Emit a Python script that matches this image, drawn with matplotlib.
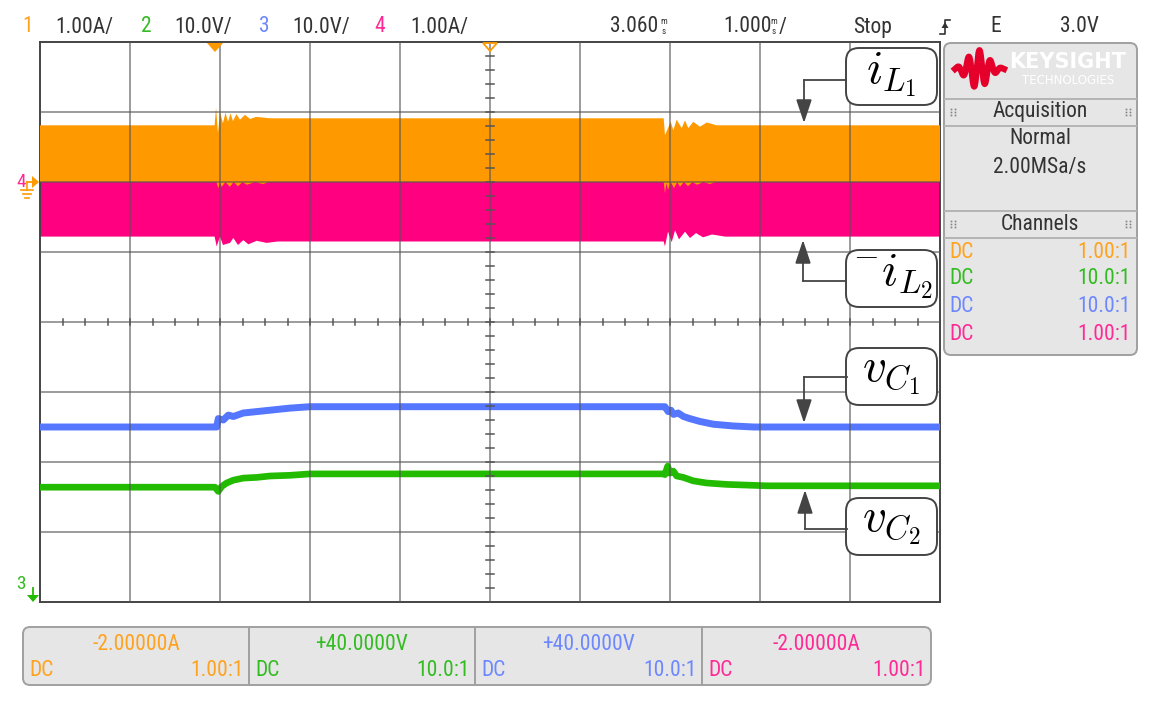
import numpy as np
import matplotlib.pyplot as plt
from matplotlib import font_manager as fm
from matplotlib.patches import FancyBboxPatch, Polygon

# ---------------- screen data (time in ms, current in A, voltage in V) ----------------
# channel 1 (i_L1): upper and lower edge of the switching band
t_iL1_top = [-1.94, 0.0, 0.016, 0.038, 0.06, 0.093, 0.121, 0.149, 0.177, 0.204, 0.243, 0.282, 0.338,
             0.393, 0.46, 0.538, 0.616, 4.99, 5.004, 5.068, 5.097, 5.134, 5.19, 5.227, 5.263, 5.319,
             5.393, 5.468, 5.579, 8.06]
iL1_top = [0.81, 0.81, 1.06, 0.70, 1.00, 0.84, 0.99, 0.86, 0.98, 0.87, 0.97, 0.89, 0.96,
           0.90, 0.93, 0.92, 0.91, 0.91, 0.67, 0.86, 0.74, 0.89, 0.77, 0.88, 0.77, 0.86,
           0.79, 0.85, 0.81, 0.81]
t_iL1_bot = [-1.94, 0.02, 0.041, 0.06, 0.079, 0.12, 0.171, 0.21, 0.26, 0.31, 0.357, 0.45, 0.538, 0.6,
             4.99, 5.004, 5.02, 5.038, 5.07, 5.104, 5.14, 5.171, 5.215, 5.26, 5.31, 5.36, 5.43, 5.504,
             5.56, 8.06]
iL1_bot = [0, 0, -0.09, 0, -0.07, 0, -0.07, 0, -0.06, 0, -0.04, 0, -0.03, 0,
           0, -0.16, -0.02, -0.11, 0, -0.09, 0, -0.07, 0, -0.06, 0, -0.04, 0, -0.03, 0, 0]

# channel 4 (-i_L2): lower edge of the band (upper edge sits at 0 A)
t_iL2 = [-1.94, 0.0, 0.023, 0.06, 0.093, 0.171, 0.208, 0.26, 0.319, 0.375, 0.467, 0.578, 0.7,
         4.99, 5.004, 5.038, 5.079, 5.116, 5.16, 5.227, 5.282, 5.349, 5.427, 5.527, 5.671, 8.06]
neg_iL2 = [-0.78, -0.78, -0.92, -0.78, -0.90, -0.87, -0.80, -0.90, -0.83, -0.89, -0.84, -0.87, -0.85,
           -0.85, -0.92, -0.71, -0.86, -0.69, -0.82, -0.71, -0.80, -0.73, -0.79, -0.75, -0.78, -0.78]

# channel 3 (v_C1)
t_vC1 = [-1.94, 0.0, 0.023, 0.041, 0.097, 0.152, 0.208, 0.319, 0.467, 0.616, 0.838, 1.06,
         4.99, 5.004, 5.04, 5.07, 5.10, 5.15, 5.21, 5.28, 5.39, 5.54, 5.76, 5.99, 8.06]
vC1 = [25.0, 25.0, 25.0, 26.2, 26.0, 26.7, 26.5, 27.0, 27.2, 27.4, 27.7, 27.9,
       27.9, 27.9, 27.2, 27.4, 26.8, 27.0, 26.5, 26.2, 25.8, 25.4, 25.15, 25.0, 25.0]

# channel 2 (v_C2)
t_vC2 = [-1.94, 0.004, 0.041, 0.079, 0.134, 0.208, 0.319, 0.467, 0.616, 0.838, 1.06,
         4.99, 5.004, 5.034, 5.06, 5.097, 5.134, 5.208, 5.319, 5.468, 5.69, 5.912, 6.134, 8.06]
vC2 = [16.4, 16.4, 15.8, 16.5, 17.0, 17.4, 17.7, 17.8, 18.0, 18.1, 18.3,
       18.3, 18.2, 19.4, 18.4, 18.7, 18.0, 17.8, 17.3, 17.0, 16.8, 16.7, 16.6, 16.6]

# scope settings
ch_names = ['1', '2', '3', '4']
ch_scale_txt = ['1.00A/', '10.0V/', '10.0V/', '1.00A/']
ch_offset_txt = ['-2.00000A', '+40.0000V', '+40.0000V', '-2.00000A']
ch_probe = ['1.00:1', '10.0:1', '10.0:1', '1.00:1']
ch_coupling = ['DC', 'DC', 'DC', 'DC']
ch_scale = [1.0, 10.0, 10.0, 1.0]      # units per division
ch_offset = [-2.0, 40.0, 40.0, -2.0]   # value at screen centre
delay_ms = 3.060
tdiv_ms = 1.0
labels = [r'$i_{L_1}$', r'${}^{-}i_{L_2}$', r'$v_{C_1}$', r'$v_{C_2}$']

# colours
trace_col = ['#ff9900', '#22bb00', '#5577ff', '#ff0080']
text_col = ['#ffa21f', '#33bb22', '#6d88ff', '#ff2a95']
grid_col = '#555555'
panel_bg = '#e6e6e6'


def pick_font():
    have = {f.name for f in fm.fontManager.ttflist}
    for name in ['Roboto Condensed', 'Liberation Sans Narrow', 'DejaVu Sans Condensed',
                 'Noto Sans ExtraCondensed', 'Noto Sans Condensed', 'Open Sans Condensed']:
        if name in have:
            return name, 1.0
    extra = sorted(n for n in have if 'Condensed' in n or 'Narrow' in n)
    if extra:
        return extra[0], 1.0
    return 'DejaVu Sans', 0.8


FONT, FS = pick_font()
plt.rcParams['font.family'] = [FONT, 'DejaVu Sans']
plt.rcParams['mathtext.fontset'] = 'cm'

W, H = 1160, 704
fig = plt.figure(figsize=(W / 100, H / 100), dpi=100)
fig.patch.set_facecolor('white')

# ---------------- graticule ----------------
ax = fig.add_axes([40 / W, (H - 602) / H, 900 / W, 560 / H])
ax.set_xlim(0, 10)
ax.set_ylim(-4, 4)
ax.set_xticks([])
ax.set_yticks([])
for s in ax.spines.values():
    s.set_color('#444444')
    s.set_linewidth(1.4)

t_left = delay_ms - 5 * tdiv_ms


def tx(t):
    return (np.asarray(t, dtype=float) - t_left) / tdiv_ms


def dv(v, ch):
    return (np.asarray(v, dtype=float) - ch_offset[ch]) / ch_scale[ch]


# -i_L2 band (ch4)
px = np.r_[tx(t_iL2), tx([t_iL2[-1], t_iL2[0]])]
py = np.r_[dv(neg_iL2, 3), dv([0, 0], 3)]
ax.fill(px, py, color=trace_col[3], lw=0, zorder=2)
# i_L1 band (ch1)
px = np.r_[tx(t_iL1_top), tx(t_iL1_bot)[::-1]]
py = np.r_[dv(iL1_top, 0), dv(iL1_bot, 0)[::-1]]
ax.fill(px, py, color=trace_col[0], lw=0, zorder=3)
# capacitor voltages
ax.plot(tx(t_vC1), dv(vC1, 2), color=trace_col[2], lw=5, solid_capstyle='butt', zorder=3)
ax.plot(tx(t_vC2), dv(vC2, 1), color=trace_col[1], lw=4.8, solid_capstyle='butt', zorder=3)

for xg in range(1, 10):
    ax.axvline(xg, color=grid_col, lw=1.1, alpha=0.75, zorder=5)
for yg in range(-3, 4):
    ax.axhline(yg, color=grid_col, lw=1.1, alpha=0.75, zorder=5)
for xm in np.arange(0.25, 10, 0.25):
    ax.plot([xm, xm], [-0.045, 0.045], color=grid_col, lw=1.1, zorder=5)
for ym in np.arange(-3.8, 4, 0.2):
    ax.plot([4.96, 5.04], [ym, ym], color=grid_col, lw=1.1, zorder=5)

# ---------------- overlay in pixel coordinates ----------------
ov = fig.add_axes([0, 0, 1, 1], zorder=10)
ov.set_xlim(0, W)
ov.set_ylim(H, 0)
ov.axis('off')
ov.patch.set_alpha(0)

fs = 15.5 * FS
dark = '#333333'

# header line
hdr_y = 27
num_x = [28, 146, 264, 380]
scale_x = [55, 174, 292, 410]
for i in range(4):
    ov.text(num_x[i], hdr_y, ch_names[i], color=text_col[i], fontsize=fs, ha='center', va='center')
    ov.text(scale_x[i], hdr_y, ch_scale_txt[i], color=dark, fontsize=fs, ha='left', va='center')
ov.text(610, hdr_y, '3.060', color=dark, fontsize=fs, ha='left', va='center')
ov.text(664, 22, 'm', color=dark, fontsize=6.5, ha='center', va='center')
ov.text(664, 31, 's', color=dark, fontsize=6.5, ha='center', va='center')
ov.text(723, hdr_y, '1.000', color=dark, fontsize=fs, ha='left', va='center')
ov.text(774, 22, 'm', color=dark, fontsize=6.5, ha='center', va='center')
ov.text(774, 31, 's', color=dark, fontsize=6.5, ha='center', va='center')
ov.text(779, hdr_y, '/', color=dark, fontsize=fs, ha='left', va='center')
ov.text(853, hdr_y, 'Stop', color=dark, fontsize=fs, ha='left', va='center')
ov.plot([940, 945, 945, 950], [34, 34, 20, 20], color=dark, lw=1.2)
ov.add_patch(Polygon([[941.5, 28], [948.5, 28], [945, 22]], closed=True, color=dark, lw=0))
ov.text(990, hdr_y, 'E', color=dark, fontsize=fs, ha='left', va='center')
ov.text(1060, hdr_y, '3.0V', color=dark, fontsize=fs, ha='left', va='center')

# trigger / delay markers on the top edge
ov.add_patch(Polygon([[207, 43], [223, 43], [215, 52]], closed=True, color=trace_col[0], lw=0))
ov.add_patch(Polygon([[483, 43], [497, 43], [490, 51]], closed=True, fill=False,
                     edgecolor=trace_col[0], lw=1.3))

# channel ground markers on the left edge
ov.plot([27, 33], [182, 182], color=trace_col[0], lw=1.3)
ov.add_patch(Polygon([[32, 176], [32, 188], [39, 182]], closed=True, color=trace_col[0], lw=0))
ov.plot([27, 27], [182, 190], color=trace_col[0], lw=1.2)
for yy, hw in [(190, 6), (194, 4), (198, 2)]:
    ov.plot([27 - hw, 27 + hw], [yy, yy], color=trace_col[0], lw=1.2)
ov.text(21, 182, ch_names[3], color=text_col[3], fontsize=fs * 0.9, ha='center', va='center')
ov.text(21, 584, ch_names[2], color=text_col[1], fontsize=fs * 0.9, ha='center', va='center')
ov.plot([33, 33], [588, 596], color=trace_col[1], lw=1.3)
ov.add_patch(Polygon([[27, 595], [39, 595], [33, 602]], closed=True, color=trace_col[1], lw=0))

# label boxes with arrows
box_top = [48, 250, 348, 498]
arrow_path = [((846, 80), (804, 80), (804, 123)),
              ((846, 281), (803, 281), (803, 240)),
              ((847, 377), (804, 377), (804, 423)),
              ((847, 529), (805, 529), (805, 490))]
for i in range(4):
    ov.add_patch(FancyBboxPatch((846, box_top[i]), 91, 57,
                                boxstyle='round,pad=0,rounding_size=13',
                                facecolor='white', edgecolor='#444444', lw=1.4, zorder=3))
    ov.text(891.5, box_top[i] + 27, labels[i], fontsize=34, ha='center', va='center',
            color='black', zorder=4)
    a, b, c = arrow_path[i]
    ov.plot([a[0], b[0]], [a[1], b[1]], color='#444444', lw=1.3, zorder=3)
    ov.annotate('', xy=c, xytext=b,
                arrowprops=dict(arrowstyle='-|>,head_length=0.9,head_width=0.3',
                                mutation_scale=16, color='#444444', lw=1.3,
                                shrinkA=0, shrinkB=0), zorder=3)

# ---------------- right side panel ----------------
ov.add_patch(FancyBboxPatch((944, 43), 193, 312, boxstyle='round,pad=0,rounding_size=7',
                            facecolor=panel_bg, edgecolor='#a0a0a0', lw=1.4))
for yy in [99, 126, 211, 238]:
    ov.plot([945, 1136], [yy, yy], color='#b4b4b4', lw=1.4)
lx = np.linspace(955, 1004, 300)
env = np.exp(-((lx - 978) / 14.0) ** 2)
ov.plot(lx, 69 - 19 * env * np.sin((lx - 955) / 49 * 2 * np.pi * 4.5), color='#e4002b', lw=4.5)
ov.text(1068, 62, 'KEYSIGHT', color='white', fontsize=15, fontweight='bold',
        family='DejaVu Sans', ha='center', va='center')
ov.text(1068, 81, 'TECHNOLOGIES', color='white', fontsize=8.5,
        family='DejaVu Sans', ha='center', va='center')
for yc in [112, 224]:
    for xc in [951, 955, 1126, 1130]:
        for dy_ in [-3, 0, 3]:
            ov.plot(xc, yc + dy_, 's', ms=1.2, color='#808080', mew=0)
ov.text(1040, 112, 'Acquisition', color=dark, fontsize=fs, ha='center', va='center')
ov.text(1040, 139, 'Normal', color=dark, fontsize=fs, ha='center', va='center')
ov.text(1040, 168, '2.00MSa/s', color=dark, fontsize=fs, ha='center', va='center')
ov.text(1040, 224, 'Channels', color=dark, fontsize=fs, ha='center', va='center')
row_y = [253, 279, 307, 335]
for i in range(4):
    ov.text(949, row_y[i], ch_coupling[i], color=text_col[i], fontsize=fs, ha='left', va='center')
    ov.text(1131, row_y[i], ch_probe[i], color=text_col[i], fontsize=fs, ha='right', va='center')

# ---------------- bottom channel bar ----------------
ov.add_patch(FancyBboxPatch((23, 627), 908, 58, boxstyle='round,pad=0,rounding_size=7',
                            facecolor=panel_bg, edgecolor='#a0a0a0', lw=1.4))
cell_edges = [23, 249, 475, 702, 931]
for xe in cell_edges[1:-1]:
    ov.plot([xe, xe], [627, 685], color='#a0a0a0', lw=1.4)
for i in range(4):
    x0, x1 = cell_edges[i], cell_edges[i + 1]
    ov.text((x0 + x1) / 2, 644, ch_offset_txt[i], color=text_col[i], fontsize=fs,
            ha='center', va='center')
    ov.text(x0 + 6, 671, ch_coupling[i], color=text_col[i], fontsize=fs, ha='left', va='center')
    ov.text(x1 - 5, 671, ch_probe[i], color=text_col[i], fontsize=fs, ha='right', va='center')

fig.savefig('out.png', dpi=100, facecolor='white')
